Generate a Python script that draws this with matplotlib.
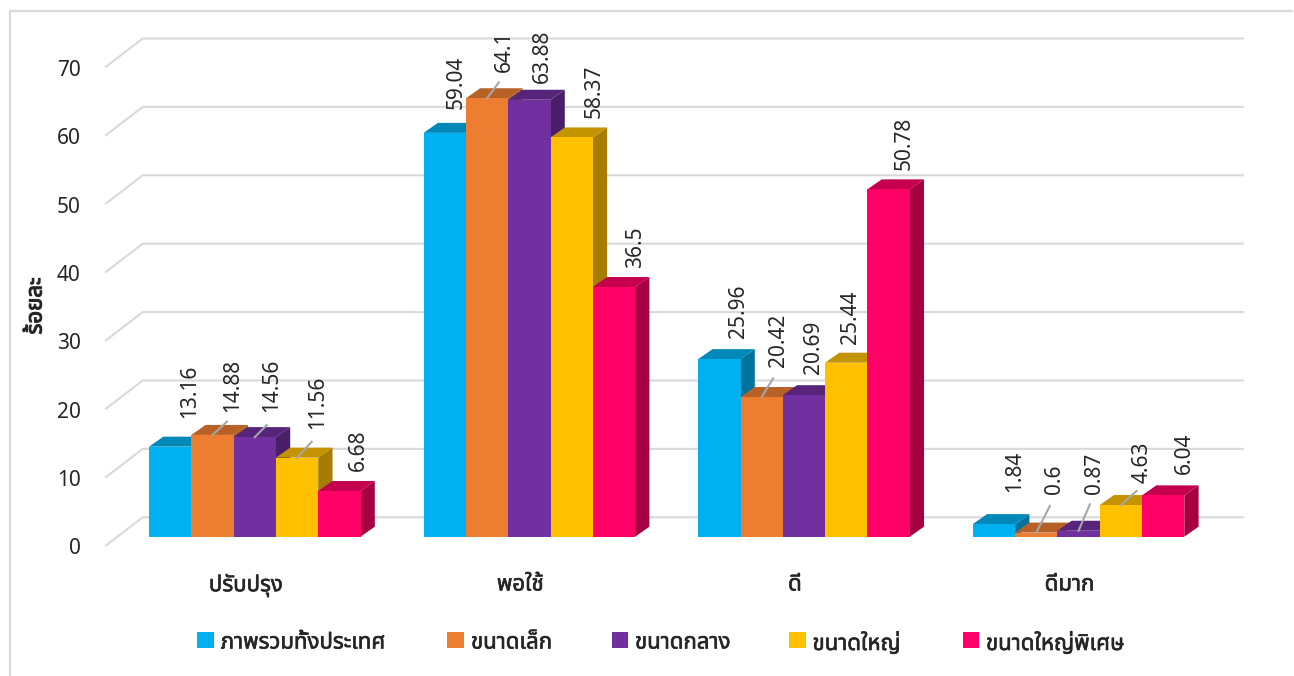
import matplotlib
matplotlib.use("Agg")
import matplotlib.pyplot as plt
import matplotlib.patches as mpatches
import matplotlib.patheffects as pe
from matplotlib import font_manager as fm

categories = ["ปรับปรุง", "พอใช้", "ดี", "ดีมาก"]
series_names = ["ภาพรวมทั้งประเทศ", "ขนาดเล็ก", "ขนาดกลาง", "ขนาดใหญ่", "ขนาดใหญ่พิเศษ"]
overall = [13.16, 59.04, 25.96, 1.84]
small = [14.88, 64.1, 20.42, 0.6]
medium = [14.56, 63.88, 20.69, 0.87]
large = [11.56, 58.37, 25.44, 4.63]
extra_large = [6.68, 36.5, 50.78, 6.04]
y_ticks = [0, 10, 20, 30, 40, 50, 60, 70]
y_label = "ร้อยละ"

front_colors = ["#00B0F0", "#ED7D31", "#7030A0", "#FFC000", "#FF0066"]
top_colors = ["#0088B8", "#B76126", "#56257B", "#C49400", "#C4004F"]
side_colors = ["#00739C", "#9C5220", "#481F68", "#A67D00", "#A60042"]

# label offset from the middle of the bar's top edge, in pixels (right, up), per series then category
label_right = [[17.8, 9.4, 16.5, 18.9], [18.5, 15.5, 14.9, 15.6], [15.2, 10.5, 7.6, 13.3],
               [18.0, 19.9, 1.9, 19.0], [16.4, 19.9, 13.0, 19.4]]
label_up = [[28.4, 23.7, 20.8, 32.4], [22.9, 26.5, 29.7, 38.6], [25.0, 16.5, 21.2, 36.7],
            [28.6, 19.1, 18.7, 22.3], [20.3, 19.3, 19.4, 21.1]]
# leader lines: (series, category) -> end of the line from the bar top, in pixels (right, up)
leaders = {(1, 0): (14.5, 13.2), (2, 0): (12.0, 12.0), (3, 0): (14.7, 15.9),
           (1, 1): (11.8, 15.9), (1, 2): (11.5, 18.7),
           (1, 3): (13.6, 26.6), (2, 3): (11.3, 26.4), (3, 3): (15.7, 14.0)}

W, H = 1294, 676
GROUP_PX = 274.6
UNIT_PX = 6.84
ZERO_X = 254.75
ZERO_Y = 536.7
BAR_W = 42.3 / GROUP_PX
DEPTH_X = 14.3 / GROUP_PX
DEPTH_Y = 10 / UNIT_PX


def px_x(px):
    return (px - ZERO_X) / GROUP_PX


def px_y(px):
    return (ZERO_Y - px) / UNIT_PX


available = {f.name for f in fm.fontManager.ttflist}
thai = [n for n in ["Noto Sans Thai", "IBM Plex Sans Thai", "Sarabun"] if n in available]
plt.rcParams["font.family"] = thai + ["Noto Sans", "DejaVu Sans"]

fig = plt.figure(figsize=(W / 100, H / 100), dpi=100)
ax = fig.add_axes([0, 0, 1, 1])
ax.set_xlim(px_x(0), px_x(W))
ax.set_ylim(px_y(H), px_y(0))
ax.axis("off")

# outer border, only left and top show in the screenshot
ax.plot([px_x(9.5), px_x(9.5), px_x(1292)], [px_y(H), px_y(11), px_y(11)], color="#D9D9D9", lw=1.6)

# gridlines with the slanted bit on the left wall
front = -8.8 / UNIT_PX
back = 19.4 / UNIT_PX
for t in y_ticks:
    ax.plot([px_x(106), px_x(142.7), px_x(1242.7)], [t + front, t + back, t + back],
            color="#D9D9D9", lw=1.5, zorder=1, solid_joinstyle="miter")
    ax.text(px_x(80.5), t + front - 1 / UNIT_PX, str(t), ha="right", va="center_baseline",
            fontsize=15, color="#262626")

all_series = [overall, small, medium, large, extra_large]
z = 2
for g in range(len(categories)):
    for s, values in enumerate(all_series):
        v = values[g]
        x = g + (s - 2) * BAR_W
        l, r = x - BAR_W / 2, x + BAR_W / 2
        ax.fill([r, r + DEPTH_X, r + DEPTH_X, r], [0, DEPTH_Y, v + DEPTH_Y, v],
                color=side_colors[s], lw=0, zorder=z)
        ax.fill([l, r, r + DEPTH_X, l + DEPTH_X], [v, v, v + DEPTH_Y, v + DEPTH_Y],
                color=top_colors[s], lw=0, zorder=z)
        ax.bar(x, v, width=BAR_W, color=front_colors[s], lw=0, zorder=z)
        z += 1

# labels and leaders over all the bars
for g in range(len(categories)):
    for s, values in enumerate(all_series):
        v = values[g]
        x = g + (s - 2) * BAR_W
        ax.text(x + (label_right[s][g] + 2.2) / GROUP_PX, v + label_up[s][g] / UNIT_PX, str(v),
                rotation=90, ha="center", va="bottom", fontsize=15, color="#262626", zorder=50)
        if (s, g) in leaders:
            dx, dy = leaders[(s, g)]
            ax.plot([x, x + dx / GROUP_PX], [v, v + dy / UNIT_PX], color="#A6A6A6", lw=1.5, zorder=49)

heavy = [pe.withStroke(linewidth=0.45, foreground="#262626")]
for g, name in enumerate(categories):
    ax.text(g - 9 / GROUP_PX, px_y(585), name, ha="center", va="center", fontsize=16, color="#262626",
            path_effects=heavy)

ax.text(px_x(36), px_y(306), y_label, rotation=90, ha="center", va="center", fontsize=16,
        color="#262626", path_effects=[pe.withStroke(linewidth=0.8, foreground="#262626")])

# legend placed by hand like the original
legend_square = [197, 447, 611.5, 789, 962.7]
legend_text = [220.7, 471, 635, 812.5, 986]
for s, name in enumerate(series_names):
    ax.add_patch(mpatches.Rectangle((px_x(legend_square[s]), px_y(648)), 16.5 / GROUP_PX, 16 / UNIT_PX,
                                    color=front_colors[s], lw=0))
    ax.text(px_x(legend_text[s]), px_y(643), name, ha="left", va="center", fontsize=16, color="#262626",
            path_effects=heavy)

fig.savefig("out.png", dpi=100)
